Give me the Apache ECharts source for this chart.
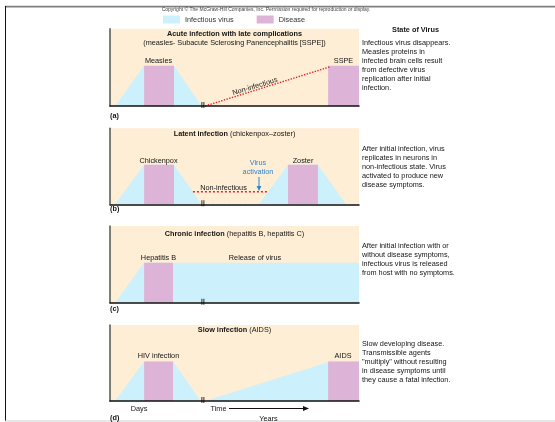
<!DOCTYPE html>
<html>
<head>
<meta charset="utf-8">
<script src="https://cdn.jsdelivr.net/npm/echarts@6/dist/echarts.min.js"></script>
<style>
  html, body { margin: 0; padding: 0; background: #fff; }
  #main { width: 555px; height: 422px; }
</style>
</head>
<body>
<div id="main"></div>
<script>
// time runs 0..100 across each panel, level 0..100 up the panel
const breakX = 37.3

// (a) acute infection with late complications
const measlesVirus = [[2, 0], [13.7, 52], [25.7, 52], [36.8, 0]]
const measlesDisease = [[13.7, 0], [13.7, 52], [25.7, 52], [25.7, 0]]
const ssspeDisease = [[87.6, 0], [87.6, 52], [100, 52], [100, 0]]
const acuteNonInfectious = [[38.2, 0], [88.4, 50.8]]

// (b) latent infection
const chickenpoxVirus = [[2, 0], [13.7, 52], [25.7, 52], [36.8, 0]]
const chickenpoxDisease = [[13.7, 0], [13.7, 52], [25.7, 52], [25.7, 0]]
const zosterVirus = [[59.8, 0], [71.5, 52], [83.5, 52], [94.8, 0]]
const zosterDisease = [[71.5, 0], [71.5, 52], [83.5, 52], [83.5, 0]]
const latentNonInfectious = [[33.3, 16.6], [63.5, 16.6]]

// (c) chronic infection
const chronicVirus = [[2, 0], [13.7, 52], [100, 52], [100, 0]]
const hepatitisDisease = [[13.7, 0], [13.7, 52], [25.3, 52], [25.3, 0]]

// (d) slow infection
const hivVirus = [[2, 0], [13.7, 52], [25.3, 52], [36.4, 0]]
const hivDisease = [[13.7, 0], [13.7, 52], [25.3, 52], [25.3, 0]]
const slowVirus = [[38.2, 0], [88.4, 52], [100, 52], [100, 0]]
const aidsDisease = [[87.6, 0], [87.6, 52], [100, 52], [100, 0]]

const stateText = [
  'Infectious virus disappears.\nMeasles proteins in\ninfected brain cells result\nfrom defective virus\nreplication after initial\ninfection.',
  'After initial infection, virus\nreplicates in neurons in\nnon-infectious state. Virus\nactivated to produce new\ndisease symptoms.',
  'After initial infection with or\nwithout disease symptoms,\ninfectious virus is released\nfrom host with no symptoms.',
  'Slow developing disease.\nTransmissible agents\n"multiply" without resulting\nin disease symptoms until\nthey cause a fatal infection.'
]

const FONT = 'Liberation Sans, Arial, sans-serif'
const FS = 7.3
const INK = '#151515'
const PEACH = '#feeed5'
const BLUE = '#ccf0fc'
const PINK = '#ddb3d7'
const RED = '#e4252a'

const panels = [
  { top: 28.7, height: 77.3 },
  { top: 128.3, height: 76 },
  { top: 226, height: 76.7 },
  { top: 325, height: 76 }
]

const chart = echarts.init(document.getElementById('main'))

let grids = panels.map(p => ({
  left: 110, width: 249, top: p.top, height: p.height,
  show: true, backgroundColor: PEACH, borderWidth: 0
}))
let xAxes = panels.map((p, i) => ({
  gridIndex: i, type: 'value', min: 0, max: 100, z: 5,
  axisLine: { lineStyle: { color: '#111', width: 1.5 } },
  axisTick: { show: false }, axisLabel: { show: false }, splitLine: { show: false }
}))
let yAxes = panels.map((p, i) => ({
  gridIndex: i, type: 'value', min: 0, max: 100, z: 5,
  axisLine: { show: true, lineStyle: { color: '#555', width: 1.5 } },
  axisTick: { show: false }, axisLabel: { show: false }, splitLine: { show: false }
}))

function area(name, data, color, gi) {
  return {
    type: 'line', name, data, xAxisIndex: gi, yAxisIndex: gi,
    symbol: 'none', silent: true,
    lineStyle: { width: 0, color },
    itemStyle: { color },
    areaStyle: { color, opacity: 1 }
  }
}
function dashed(data, gi, type) {
  return {
    type: 'line', name: 'Non-infectious', data, xAxisIndex: gi, yAxisIndex: gi,
    symbol: 'none', silent: true, z: 4,
    lineStyle: { color: RED, width: 1.4, type }
  }
}
function breakMark(gi) {
  return {
    type: 'scatter', name: 'break', data: [[breakX, 0]], xAxisIndex: gi, yAxisIndex: gi,
    symbol: 'path://M0,0h2v10h-2z M4,0h2v10h-2z', symbolSize: [3, 6], symbolOffset: [0, -1],
    itemStyle: { color: '#000' }, silent: true, z: 6
  }
}

let series = [
  area('Infectious virus', measlesVirus, BLUE, 0),
  area('Disease', measlesDisease, PINK, 0),
  area('Disease', ssspeDisease, PINK, 0),
  dashed(acuteNonInfectious, 0, 'dotted'),
  area('Infectious virus', chickenpoxVirus, BLUE, 1),
  area('Infectious virus', zosterVirus, BLUE, 1),
  area('Disease', chickenpoxDisease, PINK, 1),
  area('Disease', zosterDisease, PINK, 1),
  dashed(latentNonInfectious, 1, [2, 2]),
  area('Infectious virus', chronicVirus, BLUE, 2),
  area('Disease', hepatitisDisease, PINK, 2),
  area('Infectious virus', hivVirus, BLUE, 3),
  area('Infectious virus', slowVirus, BLUE, 3),
  area('Disease', hivDisease, PINK, 3),
  area('Disease', aidsDisease, PINK, 3)
]
for (let i = 0; i < 4; i++) series.push(breakMark(i))

function txt(x, y, text, o = {}) {
  return {
    type: 'text', x, y, rotation: o.rotation || 0, silent: true, z: 10,
    style: {
      text, fill: o.color || INK, fontFamily: FONT,
      fontSize: o.size || FS, fontWeight: o.bold ? 'bold' : 'normal',
      align: o.align || 'center', verticalAlign: o.va || 'middle',
      lineHeight: o.lh, rich: o.rich
    }
  }
}
const boldRich = { b: { fontWeight: 'bold', fontSize: FS, fontFamily: FONT, fill: INK } }

let graphic = [
  // frame
  { type: 'rect', shape: { x: 5, y: 5.8, width: 550, height: 1.6 }, style: { fill: '#7f7f7f' }, silent: true },
  { type: 'rect', shape: { x: 5, y: 6, width: 1, height: 415 }, style: { fill: '#111' }, silent: true },
  { type: 'rect', shape: { x: 5, y: 420.5, width: 550, height: 1 }, style: { fill: '#d0d0d0' }, silent: true },
  txt(266, 9.6, 'Copyright © The McGraw-Hill Companies, Inc. Permission required for reproduction or display.', { size: 5, color: '#444' }),

  // (a)
  txt(234.5, 34, 'Acute infection with late complications', { bold: true }),
  txt(234.5, 43, '(measles- Subacute Sclerosing Panencephalitis [SSPE])'),
  txt(158.5, 61, 'Measles'),
  txt(343.5, 61, 'SSPE'),
  txt(255, 86.5, 'Non-infectious', { rotation: 0.3 }),
  txt(110, 116, '(a)', { bold: true, align: 'left' }),

  // (b)
  txt(234.5, 134, '{b|Latent infection} (chickenpox–zoster)', { rich: boldRich }),
  txt(158.5, 161, 'Chickenpox'),
  txt(303, 161, 'Zoster'),
  txt(258, 163, 'Virus', { color: '#2b86d0' }),
  txt(258, 172, 'activation', { color: '#2b86d0' }),
  { type: 'line', shape: { x1: 259, y1: 177, x2: 259, y2: 187 }, style: { stroke: '#2b86d0', lineWidth: 1 }, silent: true },
  { type: 'polygon', shape: { points: [[256.6, 186], [261.4, 186], [259, 191]] }, style: { fill: '#2b86d0' }, silent: true },
  txt(223.5, 187.5, 'Non-infectious'),
  txt(110, 208.5, '(b)', { bold: true, align: 'left' }),

  // (c)
  txt(234.5, 234, '{b|Chronic infection} (hepatitis B, hepatitis C)', { rich: boldRich }),
  txt(158.5, 258, 'Hepatitis B'),
  txt(255, 258, 'Release of virus'),
  txt(110, 309, '(c)', { bold: true, align: 'left' }),

  // (d)
  txt(234.5, 330, '{b|Slow infection} (AIDS)', { rich: boldRich }),
  txt(158.5, 356, 'HIV infection'),
  txt(343, 356, 'AIDS'),
  txt(139, 409, 'Days'),
  txt(218.5, 409, 'Time'),
  { type: 'line', shape: { x1: 229, y1: 408.5, x2: 304, y2: 408.5 }, style: { stroke: '#111', lineWidth: 1 }, silent: true },
  { type: 'polygon', shape: { points: [[303, 406], [309, 408.5], [303, 411]] }, style: { fill: '#111' }, silent: true },
  txt(268.5, 418.5, 'Years'),
  txt(110, 418, '(d)', { bold: true, align: 'left' }),

  // state of virus column
  txt(415.5, 30, 'State of Virus', { bold: true })
]
const firstLine = [42.7, 149, 245.7, 344]
stateText.forEach((t, i) => {
  graphic.push(txt(362, firstLine[i] - 4.55, t, { align: 'left', va: 'top', lh: 9.1 }))
})

chart.setOption({
  animation: false,
  legend: {
    data: ['Infectious virus', 'Disease'],
    left: 163, top: 15.5, padding: 0,
    icon: 'rect', itemWidth: 17, itemHeight: 8, itemGap: 23,
    selectedMode: false,
    textStyle: { fontSize: FS, color: '#333', fontFamily: FONT }
  },
  grid: grids,
  xAxis: xAxes,
  yAxis: yAxes,
  series: series,
  graphic: graphic
})
</script>
</body>
</html>
